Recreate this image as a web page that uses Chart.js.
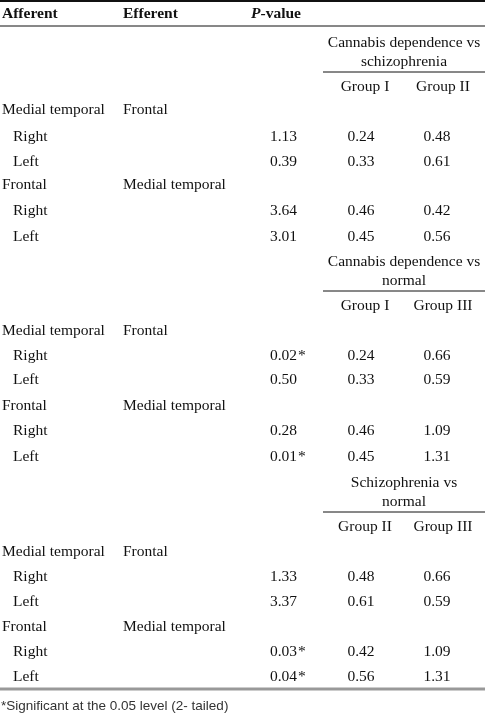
<!DOCTYPE html>
<html><head><meta charset="utf-8">
<script src="https://cdn.jsdelivr.net/npm/chart.js@4"></script>
<style>html,body{margin:0;padding:0;background:#fff}</style>
</head><body>
<canvas id="c" width="485" height="718"></canvas>
<script>
const headers = ["Afferent", "Efferent", "P-value"];
const comparisons = [["Cannabis dependence vs", "schizophrenia"], ["Cannabis dependence vs", "normal"], ["Schizophrenia vs", "normal"]];
const groupLabels = [["Group I", "Group II"], ["Group I", "Group III"], ["Group II", "Group III"]];
const afferent = ["Medial temporal", "Frontal"];
const efferent = ["Frontal", "Medial temporal"];
const sides = ["Right", "Left"];
const pValues = [["1.13","0.39","3.64","3.01"], ["0.02*","0.50","0.28","0.01*"], ["1.33","3.37","0.03*","0.04*"]];
const groupA = [["0.24","0.33","0.46","0.45"], ["0.24","0.33","0.46","0.45"], ["0.48","0.61","0.42","0.56"]];
const groupB = [["0.48","0.61","0.42","0.56"], ["0.66","0.59","1.09","1.31"], ["0.66","0.59","1.09","1.31"]];
const footnote = "*Significant at the 0.05 level (2- tailed)";

const blockTop = [43, 262, 483];
const rowY = [[110,137,162,185,211,237],[331,356,380,406,431,457],[552,577,602,627,652,677]];

const tablePlugin = {
  id: 'table',
  afterDraw(chart) {
    const {ctx, scales: {x, y}} = chart;
    const X = v => x.getPixelForValue(v), Y = v => y.getPixelForValue(v);
    ctx.save();
    ctx.fillStyle = '#111'; ctx.textBaseline = 'middle';
    const serif = '"Liberation Serif", "Times New Roman", serif';
    const line = (x1, x2, yy, w, col) => { ctx.strokeStyle = col || '#111'; ctx.lineWidth = w; ctx.beginPath(); ctx.moveTo(X(x1), Y(yy)); ctx.lineTo(X(x2), Y(yy)); ctx.stroke(); };
    line(0, 485, 1, 2);
    ctx.font = 'bold 15.5px ' + serif; ctx.textAlign = 'left';
    ctx.fillText(headers[0], X(2), Y(14));
    ctx.fillText(headers[1], X(123), Y(14));
    ctx.font = 'bold italic 15.5px ' + serif; ctx.fillText('P', X(251), Y(14));
    const pw = ctx.measureText('P').width;
    ctx.font = 'bold 15.5px ' + serif; ctx.fillText(headers[2].slice(1), X(251) + pw, Y(14));
    line(0, 485, 26, 1);
    ctx.font = '15.5px ' + serif;
    for (let b = 0; b < 3; b++) {
      const t = blockTop[b];
      ctx.textAlign = 'center';
      ctx.fillText(comparisons[b][0], X(404), Y(t));
      ctx.fillText(comparisons[b][1], X(404), Y(t + 19));
      line(323, 485, t + 29, 1);
      ctx.fillText(groupLabels[b][0], X(365), Y(t + 44));
      ctx.fillText(groupLabels[b][1], X(443), Y(t + 44));
      const r = rowY[b];
      ctx.textAlign = 'left';
      ctx.fillText(afferent[0], X(2), Y(r[0])); ctx.fillText(efferent[0], X(123), Y(r[0]));
      ctx.fillText(afferent[1], X(2), Y(r[3])); ctx.fillText(efferent[1], X(123), Y(r[3]));
      const dataRows = [r[1], r[2], r[4], r[5]];
      dataRows.forEach((yy, i) => {
        ctx.textAlign = 'left';
        ctx.fillText(sides[i % 2], X(13), Y(yy));
        const p = pValues[b][i], num = p.replace('*', '');
        ctx.textAlign = 'right'; ctx.fillText(num, X(297), Y(yy));
        if (p.endsWith('*')) { ctx.textAlign = 'left'; ctx.fillText('*', X(298), Y(yy)); }
        ctx.textAlign = 'center';
        ctx.fillText(groupA[b][i], X(361), Y(yy));
        ctx.fillText(groupB[b][i], X(437), Y(yy));
      });
    }
    line(0, 485, 689, 3, '#999');
    ctx.fillStyle = '#333'; ctx.textAlign = 'left';
    ctx.font = '13.5px "Liberation Sans", Arial, sans-serif';
    ctx.fillText(footnote, X(1), Y(706));
    ctx.restore();
  }
};

new Chart(document.getElementById('c'), {
  type: 'scatter',
  data: { datasets: [{ data: [], pointRadius: 0 }] },
  options: {
    responsive: false, animation: false,
    layout: { padding: 0 },
    plugins: { legend: { display: false }, tooltip: { enabled: false } },
    scales: {
      x: { type: 'linear', min: 0, max: 485, display: false },
      y: { type: 'linear', min: 0, max: 718, reverse: true, display: false }
    }
  },
  plugins: [tablePlugin]
});
</script>
</body></html>
